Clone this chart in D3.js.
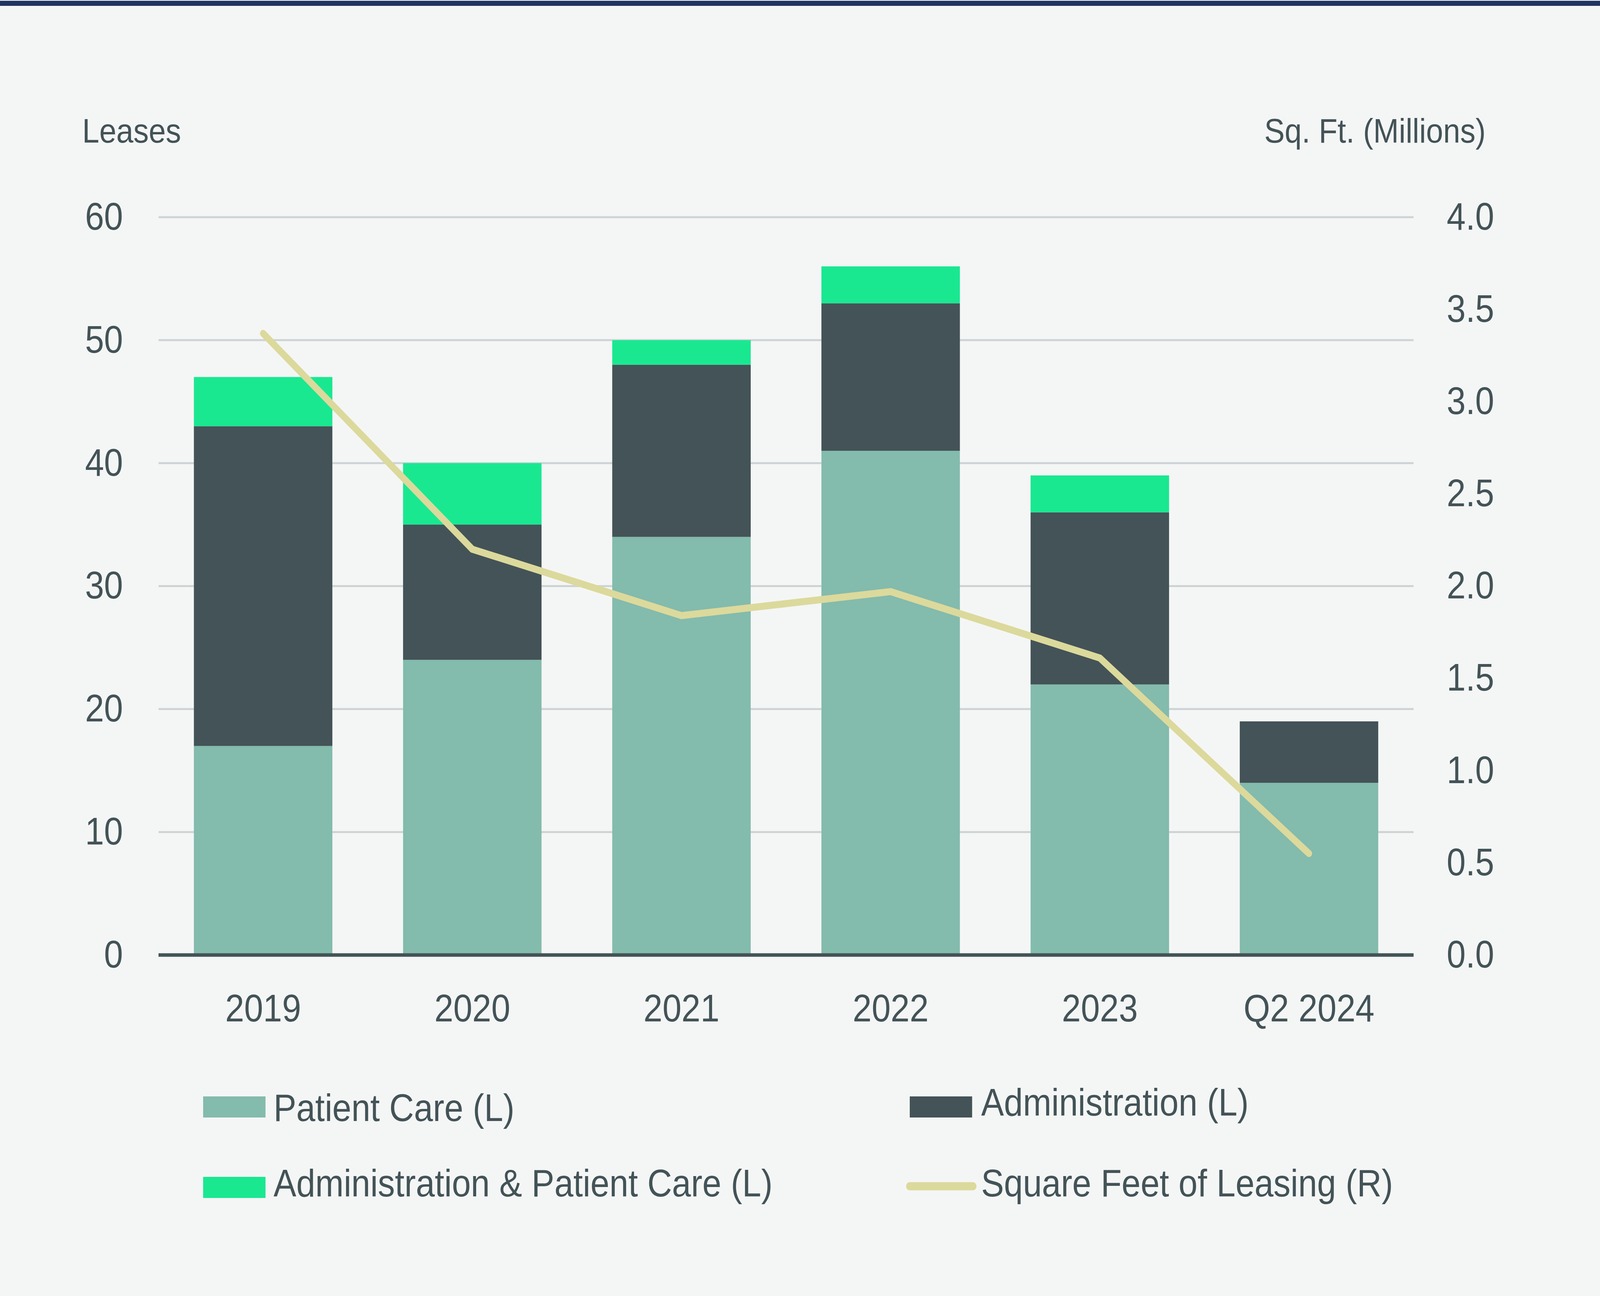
<!DOCTYPE html>
<html>
<head>
<meta charset="utf-8">
<script src="https://cdn.jsdelivr.net/npm/d3@7"></script>
<style>
  html, body { margin: 0; padding: 0; overflow: hidden; background: #f4f6f5; }
  svg { display: block; }
  text { font-family: "Liberation Sans", Arial, sans-serif; fill: #435357; }
</style>
</head>
<body>
<div id="chart"></div>
<script>
// data
const categories = ["2019", "2020", "2021", "2022", "2023", "Q2 2024"];
const patientCare = [17, 24, 34, 41, 22, 14];
const administration = [26, 11, 14, 12, 14, 5];
const adminPatientCare = [4, 5, 2, 3, 3, 0];
const sqFtMillions = [3.37, 2.2, 1.84, 1.97, 1.61, 0.55];
const leftTicks = [0, 10, 20, 30, 40, 50, 60];
const rightTicks = [0, 0.5, 1, 1.5, 2, 2.5, 3, 3.5, 4];

const seriesKeys = ["patient", "admin", "both"];
const seriesColors = { patient: "#83bbad", admin: "#435357", both: "#19e891" };
const lineColor = "#dcd99c";
const textColor = "#435357";

let width = 4592;
let height = 3318;

// scale the drawing to whatever the window really is
let svg = d3.select("#chart")
    .append("svg")
    .attr("viewBox", "0 0 " + width + " " + height)
    .attr("preserveAspectRatio", "none")
    .style("width", "100vw")
    .style("height", "100vh");

svg.append("rect")
    .attr("width", width)
    .attr("height", height)
    .attr("fill", "#f4f6f5");

// top rule
svg.append("rect")
    .attr("x", 0).attr("y", 2)
    .attr("width", width).attr("height", 13)
    .attr("fill", "#1f3461");

let table = categories.map((c, i) => ({
  cat: c,
  patient: patientCare[i],
  admin: administration[i],
  both: adminPatientCare[i]
}));

let x = d3.scaleBand()
    .domain(categories)
    .range([455, 4057])
    .paddingInner(0.338)
    .paddingOuter(0.169);

let yL = d3.scaleLinear().domain([0, 60]).range([2445, 556]);
let yR = d3.scaleLinear().domain([0, 4]).range([2445, 556]);

// gridlines
svg.append("g")
  .selectAll("line")
  .data(leftTicks.filter(d => d > 0))
  .join("line")
    .attr("x1", 455).attr("x2", 4057)
    .attr("y1", d => yL(d)).attr("y2", d => yL(d))
    .attr("stroke", "#cdd3d5")
    .attr("stroke-width", 5);

// stacked bars
let stacked = d3.stack().keys(seriesKeys)(table);

svg.append("g")
  .selectAll("g")
  .data(stacked)
  .join("g")
    .attr("fill", d => seriesColors[d.key])
  .selectAll("rect")
  .data(d => d)
  .join("rect")
    .attr("x", d => x(d.data.cat))
    .attr("width", x.bandwidth())
    .attr("y", d => yL(d[1]))
    .attr("height", d => yL(d[0]) - yL(d[1]));

// zero line
svg.append("line")
    .attr("x1", 455).attr("x2", 4057)
    .attr("y1", yL(0)).attr("y2", yL(0))
    .attr("stroke", "#435357")
    .attr("stroke-width", 9);

// square feet line
let line = d3.line()
    .x((d, i) => x(categories[i]) + x.bandwidth() / 2)
    .y(d => yR(d));

svg.append("path")
    .datum(sqFtMillions)
    .attr("d", line)
    .attr("fill", "none")
    .attr("stroke", lineColor)
    .attr("stroke-width", 18)
    .attr("stroke-linecap", "round")
    .attr("stroke-linejoin", "miter");

// axes
let leftAxis = svg.append("g")
    .attr("transform", "translate(455,0)")
    .call(d3.axisLeft(yL).tickValues(leftTicks).tickSize(0).tickPadding(102));

let rightAxis = svg.append("g")
    .attr("transform", "translate(4057,0)")
    .call(d3.axisRight(yR).tickValues(rightTicks).tickSize(0).tickPadding(95)
      .tickFormat(d3.format(".1f")));

let bottomAxis = svg.append("g")
    .attr("transform", "translate(0," + yL(0) + ")")
    .call(d3.axisBottom(x).tickSize(0).tickPadding(100));

[leftAxis, rightAxis, bottomAxis].forEach(a => {
  a.select(".domain").remove();
  a.selectAll("text")
    .style("font-family", "'Liberation Sans', Arial, sans-serif")
    .style("font-size", "98px")
    .attr("fill", textColor);
});

// axis titles
svg.append("text")
    .attr("x", 236).attr("y", 365)
    .style("font-size", "88px")
    .text("Leases");

svg.append("text")
    .attr("x", 4264).attr("y", 365)
    .attr("text-anchor", "end")
    .style("font-size", "88px")
    .text("Sq. Ft. (Millions)");

// legend
let legendItems = [
  { label: "Patient Care (L)", type: "rect", color: seriesColors.patient, x: 583, y: 2834, tx: 785, ty: 2870 },
  { label: "Administration (L)", type: "rect", color: seriesColors.admin, x: 2611, y: 2834, tx: 2816, ty: 2856 },
  { label: "Administration & Patient Care (L)", type: "rect", color: seriesColors.both, x: 583, y: 3040, tx: 785, ty: 3063 },
  { label: "Square Feet of Leasing (R)", type: "line", color: lineColor, x: 2611, y: 3037, tx: 2816, ty: 3063 }
];

let legend = svg.append("g")
  .selectAll("g")
  .data(legendItems)
  .join("g");

legend.filter(d => d.type === "rect")
  .append("rect")
    .attr("x", d => d.x)
    .attr("y", d => d.y - 27)
    .attr("width", 179)
    .attr("height", 54)
    .attr("fill", d => d.color);

legend.filter(d => d.type === "line")
  .append("line")
    .attr("x1", d => d.x).attr("x2", d => d.x + 181)
    .attr("y1", d => d.y).attr("y2", d => d.y)
    .attr("stroke", d => d.color)
    .attr("stroke-width", 21)
    .attr("stroke-linecap", "round");

legend.append("text")
    .attr("x", d => d.tx)
    .attr("y", d => d.ty)
    .style("font-size", "98px")
    .text(d => d.label);
</script>
</body>
</html>
